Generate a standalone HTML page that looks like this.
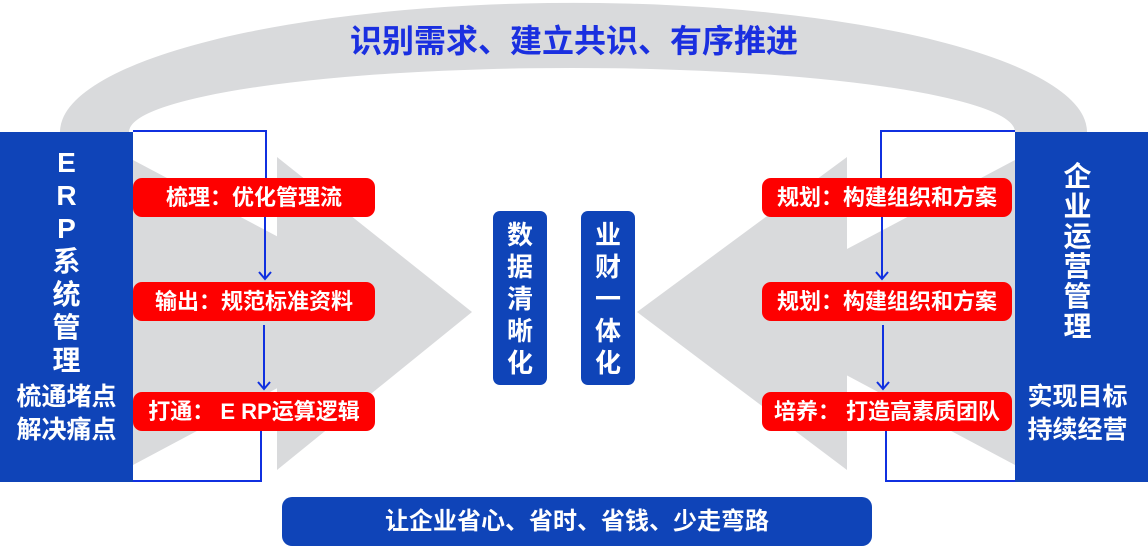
<!DOCTYPE html>
<html><head><meta charset="utf-8"><style>
body{margin:0;width:1148px;height:548px;overflow:hidden;background:#fff;font-family:"Liberation Sans","Noto Sans CJK SC",sans-serif;}
svg{position:absolute;left:0;top:0}
.t{position:absolute;color:#fff;font-weight:bold;text-align:center;white-space:nowrap}
.r{position:absolute;background:#fe0000;border-radius:9px;color:#fff;font-weight:bold;font-size:22px;line-height:39px;height:39px;text-align:center;white-space:nowrap}
.v{position:absolute;background:#0f44b8;border-radius:7px;color:#fff;font-weight:bold;font-size:26px;line-height:32px;text-align:center;padding-top:8px;box-sizing:border-box}
</style></head><body>
<svg width="1148" height="548">
<path d="M60 132 A513 129 0 0 1 1087 132 L1015 132 A443 64 0 0 0 129 132 Z" fill="#d9dadc"/>
<polygon points="133,160 420,312 133,465" fill="#d9dadc"/>
<polygon points="277,157 472,312 277,470" fill="#d9dadc"/>
<polygon points="1015,160 728,312 1015,465" fill="#d9dadc"/>
<polygon points="847,157 637,312 847,470" fill="#d9dadc"/>
<rect x="0" y="132" width="133" height="350" fill="#0f44b8"/>
<rect x="1015" y="132" width="133" height="350" fill="#0f44b8"/>
<g stroke="#1030e0" stroke-width="2" fill="none">
<path d="M133 131 H266 V178"/><path d="M265 217 V279 M259 272 L265 279 L271 272"/>
<path d="M264 325 V389 M258 382 L264 389 L270 382"/><path d="M261 431 V481 H133"/>
<path d="M1015 131 H881 V178"/><path d="M882 217 V279 M876 272 L882 279 L888 272"/>
<path d="M883 325 V389 M877 382 L883 389 L889 382"/><path d="M886 431 V481 H1015"/>
</g>
<rect x="282" y="497" width="590" height="49" rx="10" fill="#0f44b8"/>
</svg>
<div class="t" style="left:0;width:1148px;top:16px;font-size:32px;color:#1a2fe0;">识别需求、建立共识、有序推进</div>
<div class="t" style="left:0;width:133px;top:146px;font-size:28px;line-height:33px;">E<br>R<br>P<br>系<br>统<br>管<br>理</div>
<div class="t" style="left:0;width:133px;top:381px;font-size:25px;line-height:33px;">梳通堵点<br>解决痛点</div>
<div class="t" style="left:1015px;width:125px;top:162px;font-size:28px;line-height:30px;">企<br>业<br>运<br>营<br>管<br>理</div>
<div class="t" style="left:1015px;width:125px;top:381px;font-size:25px;line-height:33px;">实现目标<br>持续经营</div>
<div class="r" style="left:133px;width:242px;top:178px;">梳理：优化管理流</div>
<div class="r" style="left:133px;width:242px;top:282px;">输出：规范标准资料</div>
<div class="r" style="left:133px;width:242px;top:392px;">打通： E RP运算逻辑</div>
<div class="r" style="left:762px;width:250px;top:178px;">规划：构建组织和方案</div>
<div class="r" style="left:762px;width:250px;top:282px;">规划：构建组织和方案</div>
<div class="r" style="left:762px;width:250px;top:392px;">培养： 打造高素质团队</div>
<div class="v" style="left:493px;top:211px;width:54px;height:174px;">数<br>据<br>清<br>晰<br>化</div>
<div class="v" style="left:581px;top:211px;width:54px;height:174px;">业<br>财<br>一<br>体<br>化</div>
<div class="t" style="left:282px;width:590px;top:497px;font-size:24px;line-height:49px;">让企业省心、省时、省钱、少走弯路</div>
</body></html>
